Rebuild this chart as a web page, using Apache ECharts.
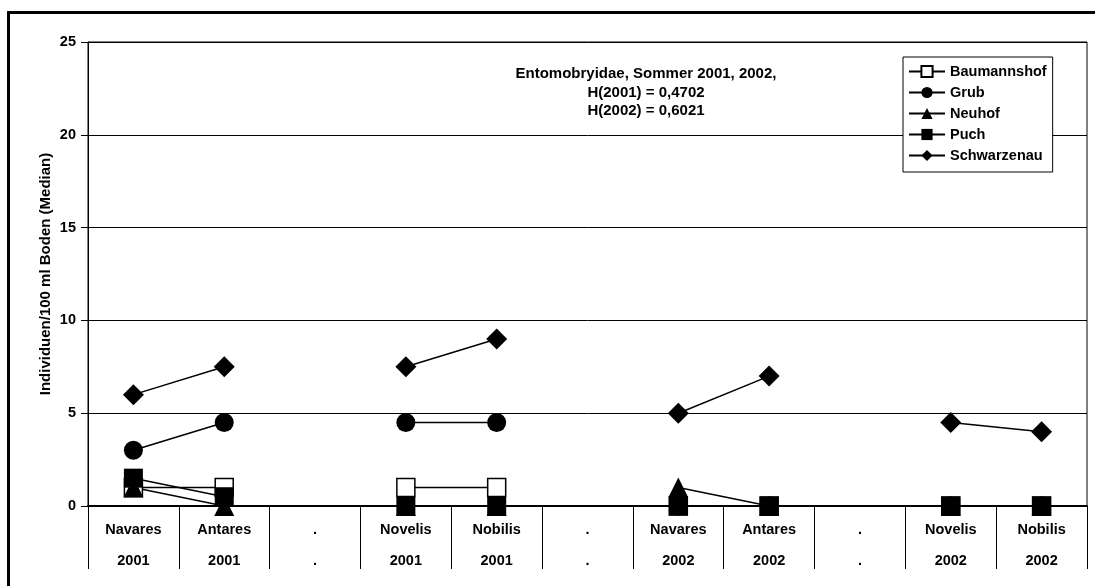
<!DOCTYPE html>
<html>
<head>
<meta charset="utf-8">
<script src="https://cdn.jsdelivr.net/npm/echarts@6/dist/echarts.min.js"></script>
<style>
  html, body { margin: 0; padding: 0; background: #fff; }
  #chart { width: 1095px; height: 586px; }
</style>
</head>
<body>
<div id="chart"></div>
<script>
// Category labels: variety (row 1) and year (row 2); "." marks spacer columns
const varieties = ['Navares', 'Antares', '.', 'Novelis', 'Nobilis', '.', 'Navares', 'Antares', '.', 'Novelis', 'Nobilis'];
const years     = ['2001', '2001', '.', '2001', '2001', '.', '2002', '2002', '.', '2002', '2002'];

// Median individuals per 100 ml soil, by site
const baumannshof = [1, 1, null, 1, 1, null, 0, 0, null, 0, 0];
const grub        = [3, 4.5, null, 4.5, 4.5, null, 0, 0, null, 0, 0];
const neuhof      = [1, 0, null, 0, 0, null, 1, 0, null, 0, 0];
const puch        = [1.5, 0.5, null, 0, 0, null, 0, 0, null, 0, 0];
const schwarzenau = [6, 7.5, null, 7.5, 9, null, 5, 7, null, 4.5, 4];

const yTicks = [0, 5, 10, 15, 20, 25];
const noteLines = ['Entomobryidae, Sommer 2001, 2002,', 'H(2001) = 0,4702', 'H(2002) = 0,6021'];
const yTitle = 'Individuen/100 ml Boden (Median)';

const FONT = "'Liberation Sans', Arial, sans-serif";
const categories = varieties.map((v, i) => v + '\n' + years[i]);

function makeSeries(name, data, symbol, size, filled) {
  return {
    name: name,
    type: 'line',
    data: data,
    symbol: symbol,
    symbolSize: size,
    connectNulls: false,
    clip: false,
    lineStyle: { color: '#000', width: 1.5 },
    itemStyle: {
      color: filled ? '#000' : '#fff',
      borderColor: '#000',
      borderWidth: filled ? 0 : 1.5
    },
    emphasis: { disabled: true }
  };
}

const chart = echarts.init(document.getElementById('chart'), null, { renderer: 'canvas' });
chart.setOption({
  animation: false,
  backgroundColor: '#fff',
  textStyle: { fontFamily: FONT },
  grid: {
    left: 88, right: 8, top: 42, bottom: 80,
    show: true, borderColor: '#000', borderWidth: 1, backgroundColor: 'transparent'
  },
  xAxis: {
    type: 'category',
    data: categories,
    boundaryGap: true,
    axisLine: { show: true, lineStyle: { color: '#000', width: 2 } },
    axisTick: { show: true, interval: 0, length: 63, lineStyle: { color: '#000', width: 1 } },
    axisLabel: {
      interval: 0,
      margin: 8,
      color: '#000',
      fontFamily: FONT,
      fontWeight: 'bold',
      fontSize: 14.5,
      lineHeight: 31
    },
    splitLine: { show: false }
  },
  yAxis: {
    type: 'value',
    min: yTicks[0],
    max: yTicks[yTicks.length - 1],
    interval: yTicks[1] - yTicks[0],
    name: yTitle,
    nameLocation: 'middle',
    nameGap: 35,
    nameMoveOverlap: false,
    nameTextStyle: { color: '#000', fontFamily: FONT, fontWeight: 'bold', fontSize: 15 },
    axisLine: { show: true, lineStyle: { color: '#000', width: 1 } },
    axisTick: { show: true, length: 7, lineStyle: { color: '#000', width: 1 } },
    axisLabel: { margin: 12, color: '#000', fontFamily: FONT, fontWeight: 'bold', fontSize: 14.5 },
    splitLine: { show: true, lineStyle: { color: '#000', width: 1 } }
  },
  legend: {
    orient: 'vertical',
    left: 903,
    top: 57,
    padding: [7, 6, 9, 5],
    itemWidth: 36,
    itemHeight: 14,
    itemGap: 6,
    backgroundColor: '#fff',
    borderColor: '#000',
    borderWidth: 1,
    textStyle: { color: '#000', fontFamily: FONT, fontWeight: 'bold', fontSize: 14.5 },
    data: ['Baumannshof', 'Grub', 'Neuhof', 'Puch', 'Schwarzenau']
  },
  graphic: [
    {
      type: 'rect',
      silent: true,
      shape: { x: 8.5, y: 12.5, width: 1200, height: 1000 },
      style: { fill: 'none', stroke: '#000', lineWidth: 3 }
    },
    {
      type: 'text',
      silent: true,
      x: 646,
      y: 65,
      style: {
        text: noteLines.join('\n'),
        fontFamily: FONT,
        fontWeight: 'bold',
        fontSize: 15,
        lineHeight: 18.5,
        fill: '#000',
        align: 'center',
        verticalAlign: 'top'
      }
    }
  ],
  series: [
    makeSeries('Baumannshof', baumannshof, 'rect', 18, false),
    makeSeries('Grub', grub, 'circle', 19, true),
    makeSeries('Neuhof', neuhof, 'triangle', 20, true),
    makeSeries('Puch', puch, 'rect', 19, true),
    makeSeries('Schwarzenau', schwarzenau, 'diamond', 21, true)
  ]
});
</script>
</body>
</html>
